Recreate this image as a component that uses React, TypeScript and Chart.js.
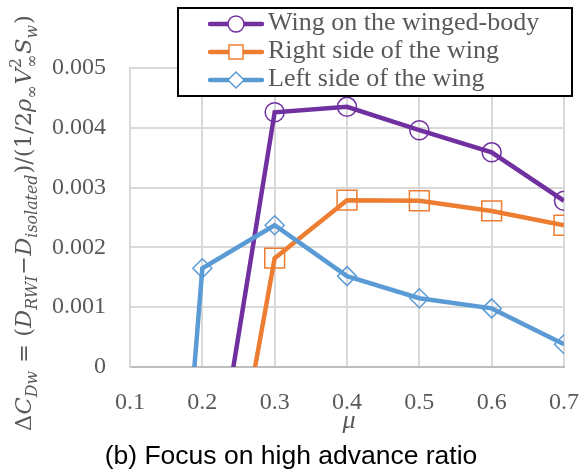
import React, { useEffect, useRef } from "react";
import { Chart, registerables } from "chart.js";

Chart.register(...registerables);

// Advance ratio μ and the drag increment ΔC_Dw for each case
const wingMu = [0.2, 0.3, 0.4, 0.5, 0.6, 0.7];
const wingValues = [-0.0032, 0.00426, 0.00435, 0.00396, 0.00359, 0.00278];

const rightMu = [0.2, 0.3, 0.4, 0.5, 0.6, 0.7];
const rightValues = [-0.0049, 0.00182, 0.00279, 0.00278, 0.00261, 0.00237];

const leftMu = [0.1, 0.2, 0.3, 0.4, 0.5, 0.6, 0.7];
const leftValues = [-0.0134, 0.00165, 0.00237, 0.00152, 0.00115, 0.00098, 0.00038];

const seriesNames = [
  "Wing on the winged-body",
  "Right side of the wing",
  "Left side of the wing",
];
const seriesColors = ["#7030A0", "#ED7D31", "#5B9BD5"];
const seriesMarkers = ["circle", "rect", "rectRot"] as const;

const xTicks = [0.1, 0.2, 0.3, 0.4, 0.5, 0.6, 0.7];
const yTicks = [0, 0.001, 0.002, 0.003, 0.004, 0.005];

const captionText = "(b) Focus on high advance ratio";
const xTitle = "μ";

const GRAY_TEXT = "#595959";
const SERIF = '"Liberation Serif", "DejaVu Serif", serif';
const MATH_SERIF = '"DejaVu Serif", "Liberation Serif", serif';

type Seg = { t: string; it: boolean; pos: "b" | "sub" | "subsup"; t2?: string };

// ΔC_Dw = (D_RWI − D_isolated)/(1/2 ρ∞ V∞² S_w)
const yTitleSegs: Seg[] = [
  { t: "Δ", it: false, pos: "b" },
  { t: "C", it: true, pos: "b" },
  { t: "Dw", it: true, pos: "sub" },
  { t: " = (", it: false, pos: "b" },
  { t: "D", it: true, pos: "b" },
  { t: "RWI", it: true, pos: "sub" },
  { t: "−", it: false, pos: "b" },
  { t: "D", it: true, pos: "b" },
  { t: "isolated", it: true, pos: "sub" },
  { t: ")/(1/2", it: false, pos: "b" },
  { t: "ρ", it: true, pos: "b" },
  { t: "∞", it: false, pos: "sub" },
  { t: "V", it: true, pos: "b" },
  { t: "∞", it: false, pos: "subsup", t2: "2" },
  { t: "S", it: true, pos: "b" },
  { t: "w", it: true, pos: "sub" },
  { t: ")", it: false, pos: "b" },
];
const Y_TITLE_LENGTH = 417;

function toPoints(xs: number[], ys: number[]) {
  return xs.map((x, i) => ({ x, y: ys[i] }));
}

function markerPath(ctx: CanvasRenderingContext2D, kind: string, x: number, y: number, r: number) {
  ctx.beginPath();
  if (kind === "circle") {
    ctx.arc(x, y, r, 0, Math.PI * 2);
  } else if (kind === "rect") {
    ctx.rect(x - r, y - r, 2 * r, 2 * r);
  } else {
    ctx.moveTo(x - r, y);
    ctx.lineTo(x, y - r);
    ctx.lineTo(x + r, y);
    ctx.lineTo(x, y + r);
    ctx.closePath();
  }
}

const annotations = {
  id: "annotations",
  afterDraw(chart: Chart) {
    const ctx = chart.ctx;
    ctx.save();

    // Legend box
    const bx = 178, by = 8, bw = 394, bh = 88;
    ctx.fillStyle = "#ffffff";
    ctx.fillRect(bx, by, bw, bh);
    ctx.strokeStyle = "#000000";
    ctx.lineWidth = 2;
    ctx.strokeRect(bx, by, bw, bh);
    const rows = [24, 52, 80];
    seriesNames.forEach((name, i) => {
      const y = rows[i];
      ctx.strokeStyle = seriesColors[i];
      ctx.lineWidth = 4.5;
      ctx.lineCap = "round";
      ctx.beginPath();
      ctx.moveTo(210, y);
      ctx.lineTo(262, y);
      ctx.stroke();
      const kind = seriesMarkers[i];
      const r = kind === "rect" ? 7 : 8;
      ctx.fillStyle = "#ffffff";
      markerPath(ctx, kind, 236, y, r);
      ctx.fill();
      ctx.lineWidth = 1.5;
      ctx.stroke();
      ctx.fillStyle = GRAY_TEXT;
      ctx.font = `26px ${SERIF}`;
      ctx.textAlign = "left";
      ctx.textBaseline = "middle";
      ctx.fillText(name, 268, y - 1);
    });

    // x-axis title
    ctx.fillStyle = GRAY_TEXT;
    ctx.font = `italic 26px ${SERIF}`;
    ctx.textAlign = "center";
    ctx.textBaseline = "middle";
    ctx.fillText(xTitle, 349, 421);

    // Caption
    ctx.fillStyle = "#000000";
    ctx.font = '26.5px "Liberation Sans", Arial, sans-serif';
    ctx.textAlign = "center";
    ctx.textBaseline = "alphabetic";
    ctx.fillText(captionText, 291, 464);

    // y-axis title (rotated, with subscripts)
    const font = (it: boolean, s: number) => `${it ? "italic " : ""}${s}px ${MATH_SERIF}`;
    const measure = (base: number) => {
      const sub = base * 0.7;
      return yTitleSegs.map((sg) => {
        if (sg.pos === "b") {
          ctx.font = font(sg.it, base);
          return ctx.measureText(sg.t).width;
        }
        ctx.font = font(sg.it, sub);
        const w1 = ctx.measureText(sg.t).width;
        const w2 = sg.t2 ? ctx.measureText(sg.t2).width : 0;
        return Math.max(w1, w2) + 1;
      });
    };
    const probe = measure(20).reduce((a, b) => a + b, 0);
    const base = (20 * Y_TITLE_LENGTH) / probe;
    const sub = base * 0.7;
    const widths = measure(base);
    const total = widths.reduce((a, b) => a + b, 0);
    ctx.translate(31, 223);
    ctx.rotate(-Math.PI / 2);
    let cx = -total / 2;
    ctx.fillStyle = GRAY_TEXT;
    ctx.textAlign = "left";
    ctx.textBaseline = "alphabetic";
    yTitleSegs.forEach((sg, i) => {
      if (sg.pos === "b") {
        ctx.font = font(sg.it, base);
        ctx.fillText(sg.t, cx, 0);
      } else {
        ctx.font = font(sg.it, sub);
        ctx.fillText(sg.t, cx, base * 0.25);
        if (sg.t2) ctx.fillText(sg.t2, cx, -base * 0.45);
      }
      cx += widths[i];
    });
    ctx.restore();
  },
};

export default function App() {
  const canvasRef = useRef<HTMLCanvasElement | null>(null);

  useEffect(() => {
    const canvas = canvasRef.current;
    if (!canvas) return;
    const allSeries = [
      toPoints(wingMu, wingValues),
      toPoints(rightMu, rightValues),
      toPoints(leftMu, leftValues),
    ];
    const chart = new Chart(canvas, {
      type: "scatter",
      data: {
        datasets: allSeries.map((pts, i) => ({
          label: seriesNames[i],
          data: pts,
          showLine: true,
          borderColor: seriesColors[i],
          borderWidth: 4.5,
          backgroundColor: "rgba(0,0,0,0)",
          pointStyle: seriesMarkers[i],
          pointRadius: seriesMarkers[i] === "rect" ? 14 : 9.5,
          pointBorderWidth: 1.5,
          pointBorderColor: seriesColors[i],
          pointBackgroundColor: "rgba(0,0,0,0)",
          order: i === 0 ? 2 : i === 1 ? 1 : 0,
        })),
      },
      options: {
        responsive: false,
        animation: false,
        events: [],
        layout: { padding: { left: 0, top: 68, right: 18, bottom: 0 } },
        plugins: { legend: { display: false }, tooltip: { enabled: false } },
        scales: {
          x: {
            type: "linear",
            min: 0.1,
            max: 0.7,
            afterBuildTicks: (scale: any) => {
              scale.ticks = xTicks.map((v) => ({ value: v }));
            },
            afterFit: (scale: any) => {
              scale.height = 106;
              scale.paddingLeft = 0;
              scale.paddingRight = 0;
            },
            ticks: {
              padding: 21,
              color: GRAY_TEXT,
              font: { family: SERIF, size: 24 },
              maxRotation: 0,
              callback: (v: any) => Number(v).toFixed(1),
            },
            grid: { color: "#d9d9d9", lineWidth: 2, drawTicks: false },
            border: { color: "#bfbfbf", width: 2 },
          },
          y: {
            type: "linear",
            min: 0,
            max: 0.005,
            afterBuildTicks: (scale: any) => {
              scale.ticks = yTicks.map((v) => ({ value: v }));
            },
            afterFit: (scale: any) => {
              scale.width = 130;
              scale.paddingTop = 0;
              scale.paddingBottom = 0;
            },
            ticks: {
              padding: 24,
              color: GRAY_TEXT,
              font: { family: SERIF, size: 24 },
              callback: (v: any) => (Number(v) === 0 ? "0" : Number(v).toFixed(3)),
            },
            grid: { color: "#d9d9d9", lineWidth: 2, drawTicks: false },
            border: { color: "#d9d9d9", width: 2 },
          },
        },
      },
      plugins: [annotations],
    });
    return () => chart.destroy();
  }, []);

  return (
    <div style={{ position: "fixed", left: 0, top: 0, width: 582, height: 473, background: "#ffffff" }}>
      <canvas ref={canvasRef} width={582} height={473} style={{ display: "block" }} />
    </div>
  );
}
